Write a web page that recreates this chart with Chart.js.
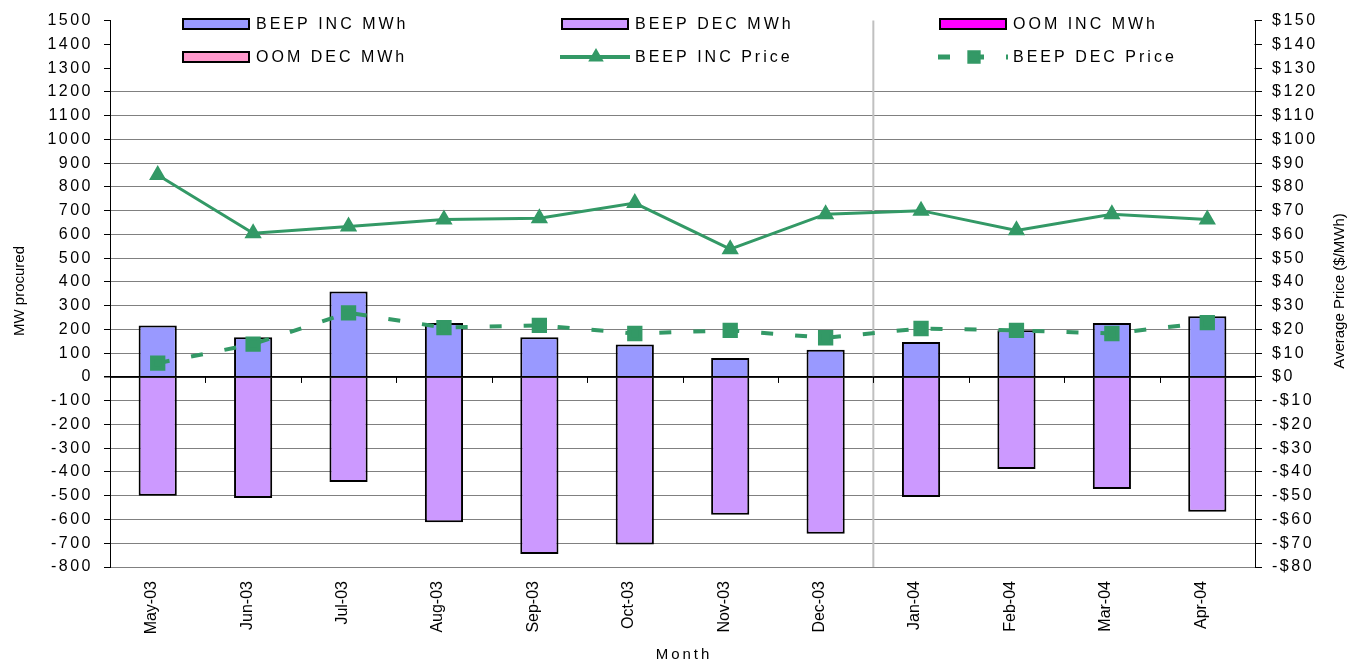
<!DOCTYPE html>
<html>
<head>
<meta charset="utf-8">
<script src="https://cdn.jsdelivr.net/npm/chart.js@4.4.0/dist/chart.umd.min.js"></script>
<style>
body { margin: 0; background: #fff; }
</style>
</head>
<body>
<canvas id="chart" width="1349" height="664"></canvas>
<script>
const months = ['May-03', 'Jun-03', 'Jul-03', 'Aug-03', 'Sep-03', 'Oct-03', 'Nov-03', 'Dec-03', 'Jan-04', 'Feb-04', 'Mar-04', 'Apr-04']
const beepIncMwh = [217, 167, 360, 227, 167, 137, 80, 115, 147, 197, 227, 255]
const beepDecMwh = [-500, -510, -442, -612, -745, -705, -580, -660, -505, -388, -472, -567]
const oomIncMwh = [0, 0, 0, 0, 0, 0, 0, 0, 0, 0, 0, 0]
const oomDecMwh = [0, 0, 0, 0, 0, 0, 0, 0, 0, 0, 0, 0]
const beepIncPrice = [85, 60.5, 63.3, 66.3, 66.8, 73.2, 53.8, 68.5, 70, 61.7, 68.5, 66.3]
const beepDecPrice = [5.8, 13.8, 27, 20.8, 21.7, 18.3, 19.6, 16.5, 20.4, 19.6, 18.3, 22.9]
const mwRange = [-800, 1500]
const priceRange = [-80, 150]

const font = "'Liberation Sans', Arial, sans-serif"
const green = '#339966'

// stuff drawn around the datasets: legend box, divider, zero ticks, titles, legend
const decorPlugin = {
  id: 'decor',
  beforeDraw(chart) {
    chart.ctx.letterSpacing = '2.5px'
  },
  beforeDatasetsDraw(chart) {
    const ctx = chart.ctx
    const area = chart.chartArea
    const y = chart.scales.y
    const step = (area.right - area.left) / months.length
    ctx.save()
    ctx.fillStyle = '#fff'
    ctx.fillRect(area.left + 1, area.top - 3, area.right - area.left - 2, 62)

    const splitX = area.left + step * 8
    ctx.strokeStyle = '#c0c0c0'
    ctx.lineWidth = 2
    ctx.beginPath()
    ctx.moveTo(splitX, area.top)
    ctx.lineTo(splitX, area.bottom)
    ctx.stroke()

    const zeroY = y.getPixelForValue(0)
    ctx.strokeStyle = '#000'
    ctx.lineWidth = 1
    ctx.beginPath()
    for (let i = 0; i <= months.length; i++) {
      const px = Math.round(area.left + step * i) + 0.5
      ctx.moveTo(px, zeroY)
      ctx.lineTo(px, zeroY + 6)
    }
    ctx.stroke()
    ctx.restore()
    ctx.letterSpacing = '0px'
  },
  afterDatasetsDraw(chart) {
    const ctx = chart.ctx
    // zero line over the bar bases
    const area = chart.chartArea
    const zeroY = chart.scales.y.getPixelForValue(0)
    ctx.save()
    ctx.strokeStyle = '#000'
    ctx.lineWidth = 1.5
    ctx.beginPath()
    ctx.moveTo(area.left, zeroY)
    ctx.lineTo(area.right, zeroY)
    ctx.stroke()
    ctx.restore()
    ctx.letterSpacing = '0px'
  },
  afterDraw(chart) {
    const ctx = chart.ctx
    ctx.save()
    ctx.fillStyle = '#000'
    ctx.textBaseline = 'middle'

    // axis titles
    ctx.letterSpacing = '0px'
    ctx.font = '15px ' + font
    ctx.textAlign = 'center'
    ctx.save()
    ctx.translate(20, 291)
    ctx.rotate(-Math.PI / 2)
    ctx.fillText('MW procured', 0, 0)
    ctx.restore()
    ctx.save()
    ctx.translate(1340, 291)
    ctx.rotate(-Math.PI / 2)
    ctx.fillText('Average Price ($/MWh)', 0, 0)
    ctx.restore()
    ctx.letterSpacing = '3px'
    ctx.fillText('Month', 684, 655)

    // legend, 3 columns x 2 rows
    const slots = [[183, 24], [562, 24], [940, 24], [183, 57], [562, 57], [940, 57]]
    ctx.font = '16px ' + font
    ctx.textAlign = 'left'
    chart.data.datasets.forEach((ds, i) => {
      const [sx, sy] = slots[i]
      ctx.letterSpacing = '0px'
      if (ds.type === 'line') {
        ctx.save()
        ctx.strokeStyle = ds.borderColor
        ctx.lineWidth = ds.borderWidth + 1
        ctx.setLineDash(ds.borderDash || [])
        ctx.beginPath()
        ctx.moveTo(sx - 2, sy)
        ctx.lineTo(sx + 68, sy)
        ctx.stroke()
        ctx.restore()
        ctx.fillStyle = ds.backgroundColor
        ctx.strokeStyle = ds.borderColor
        Chart.helpers.drawPoint(ctx, {pointStyle: ds.pointStyle, radius: ds.pointRadius, rotation: 0, borderWidth: 1}, sx + 34, sy)
      } else {
        ctx.fillStyle = ds.backgroundColor
        ctx.fillRect(sx, sy - 5, 66, 10)
        ctx.strokeStyle = '#000'
        ctx.lineWidth = 2
        ctx.strokeRect(sx, sy - 5, 66, 10)
      }
      ctx.fillStyle = '#000'
      ctx.letterSpacing = '3px'
      ctx.fillText(ds.label, sx + 73, sy + 1)
    })
    ctx.restore()
  }
}

new Chart(document.getElementById('chart'), {
  type: 'bar',
  data: {
    labels: months,
    datasets: [
      {label: 'BEEP INC MWh', data: beepIncMwh, backgroundColor: '#9999ff', borderColor: '#000', borderWidth: 2, order: 1},
      {label: 'BEEP DEC MWh', data: beepDecMwh, backgroundColor: '#cc99ff', borderColor: '#000', borderWidth: 2, order: 1},
      {label: 'OOM INC MWh', data: oomIncMwh, backgroundColor: '#ff00ff', borderColor: '#000', borderWidth: 0, order: 1},
      {label: 'OOM DEC MWh', data: oomDecMwh, backgroundColor: '#ff99cc', borderColor: '#000', borderWidth: 0, order: 1},
      {
        type: 'line', label: 'BEEP INC Price', data: beepIncPrice, yAxisID: 'y1', order: 0,
        borderColor: green, backgroundColor: green, borderWidth: 3,
        pointStyle: 'triangle', pointRadius: 7, pointHoverRadius: 7,
        pointBackgroundColor: green, pointBorderColor: green, tension: 0
      },
      {
        type: 'line', label: 'BEEP DEC Price', data: beepDecPrice, yAxisID: 'y1', order: 0,
        borderColor: green, backgroundColor: green, borderWidth: 4, borderDash: [12, 22],
        pointStyle: 'rect', pointRadius: 8, pointHoverRadius: 8,
        pointBackgroundColor: green, pointBorderColor: green, tension: 0
      }
    ]
  },
  options: {
    responsive: false,
    animation: false,
    devicePixelRatio: 1,
    layout: {padding: {top: 15, left: 0, right: 0, bottom: 0}},
    datasets: {bar: {categoryPercentage: 1, barPercentage: 0.4}},
    plugins: {legend: {display: false}, tooltip: {enabled: false}},
    scales: {
      x: {
        stacked: true,
        grid: {display: false, drawTicks: false},
        border: {display: false},
        ticks: {z: 1, minRotation: 90, maxRotation: 90, autoSkip: false, padding: 14, labelOffset: -6, color: '#000', font: {family: font, size: 16}},
        afterFit(s) { s.height = 97 }
      },
      y: {
        stacked: true,
        position: 'left',
        min: mwRange[0],
        max: mwRange[1],
        ticks: {stepSize: 100, padding: 11, color: '#000', font: {family: font, size: 16}, callback: v => String(v)},
        grid: {
          color: c => c.tick.value === 0 ? '#000' : '#808080',
          lineWidth: c => c.tick.value === 0 ? 1.5 : 1,
          tickLength: 6,
          tickColor: '#000'
        },
        border: {color: '#000', width: 1},
        afterFit(s) { s.width = 110 }
      },
      y1: {
        position: 'right',
        min: priceRange[0],
        max: priceRange[1],
        ticks: {
          stepSize: 10, padding: 10, color: '#000', font: {family: font, size: 16},
          callback: v => (v < 0 ? '-$' : '$') + Math.abs(v)
        },
        grid: {drawOnChartArea: false, tickLength: 7, tickColor: '#000'},
        border: {color: '#000', width: 1},
        afterFit(s) { s.width = 94 }
      }
    }
  },
  plugins: [decorPlugin]
})
</script>
</body>
</html>
